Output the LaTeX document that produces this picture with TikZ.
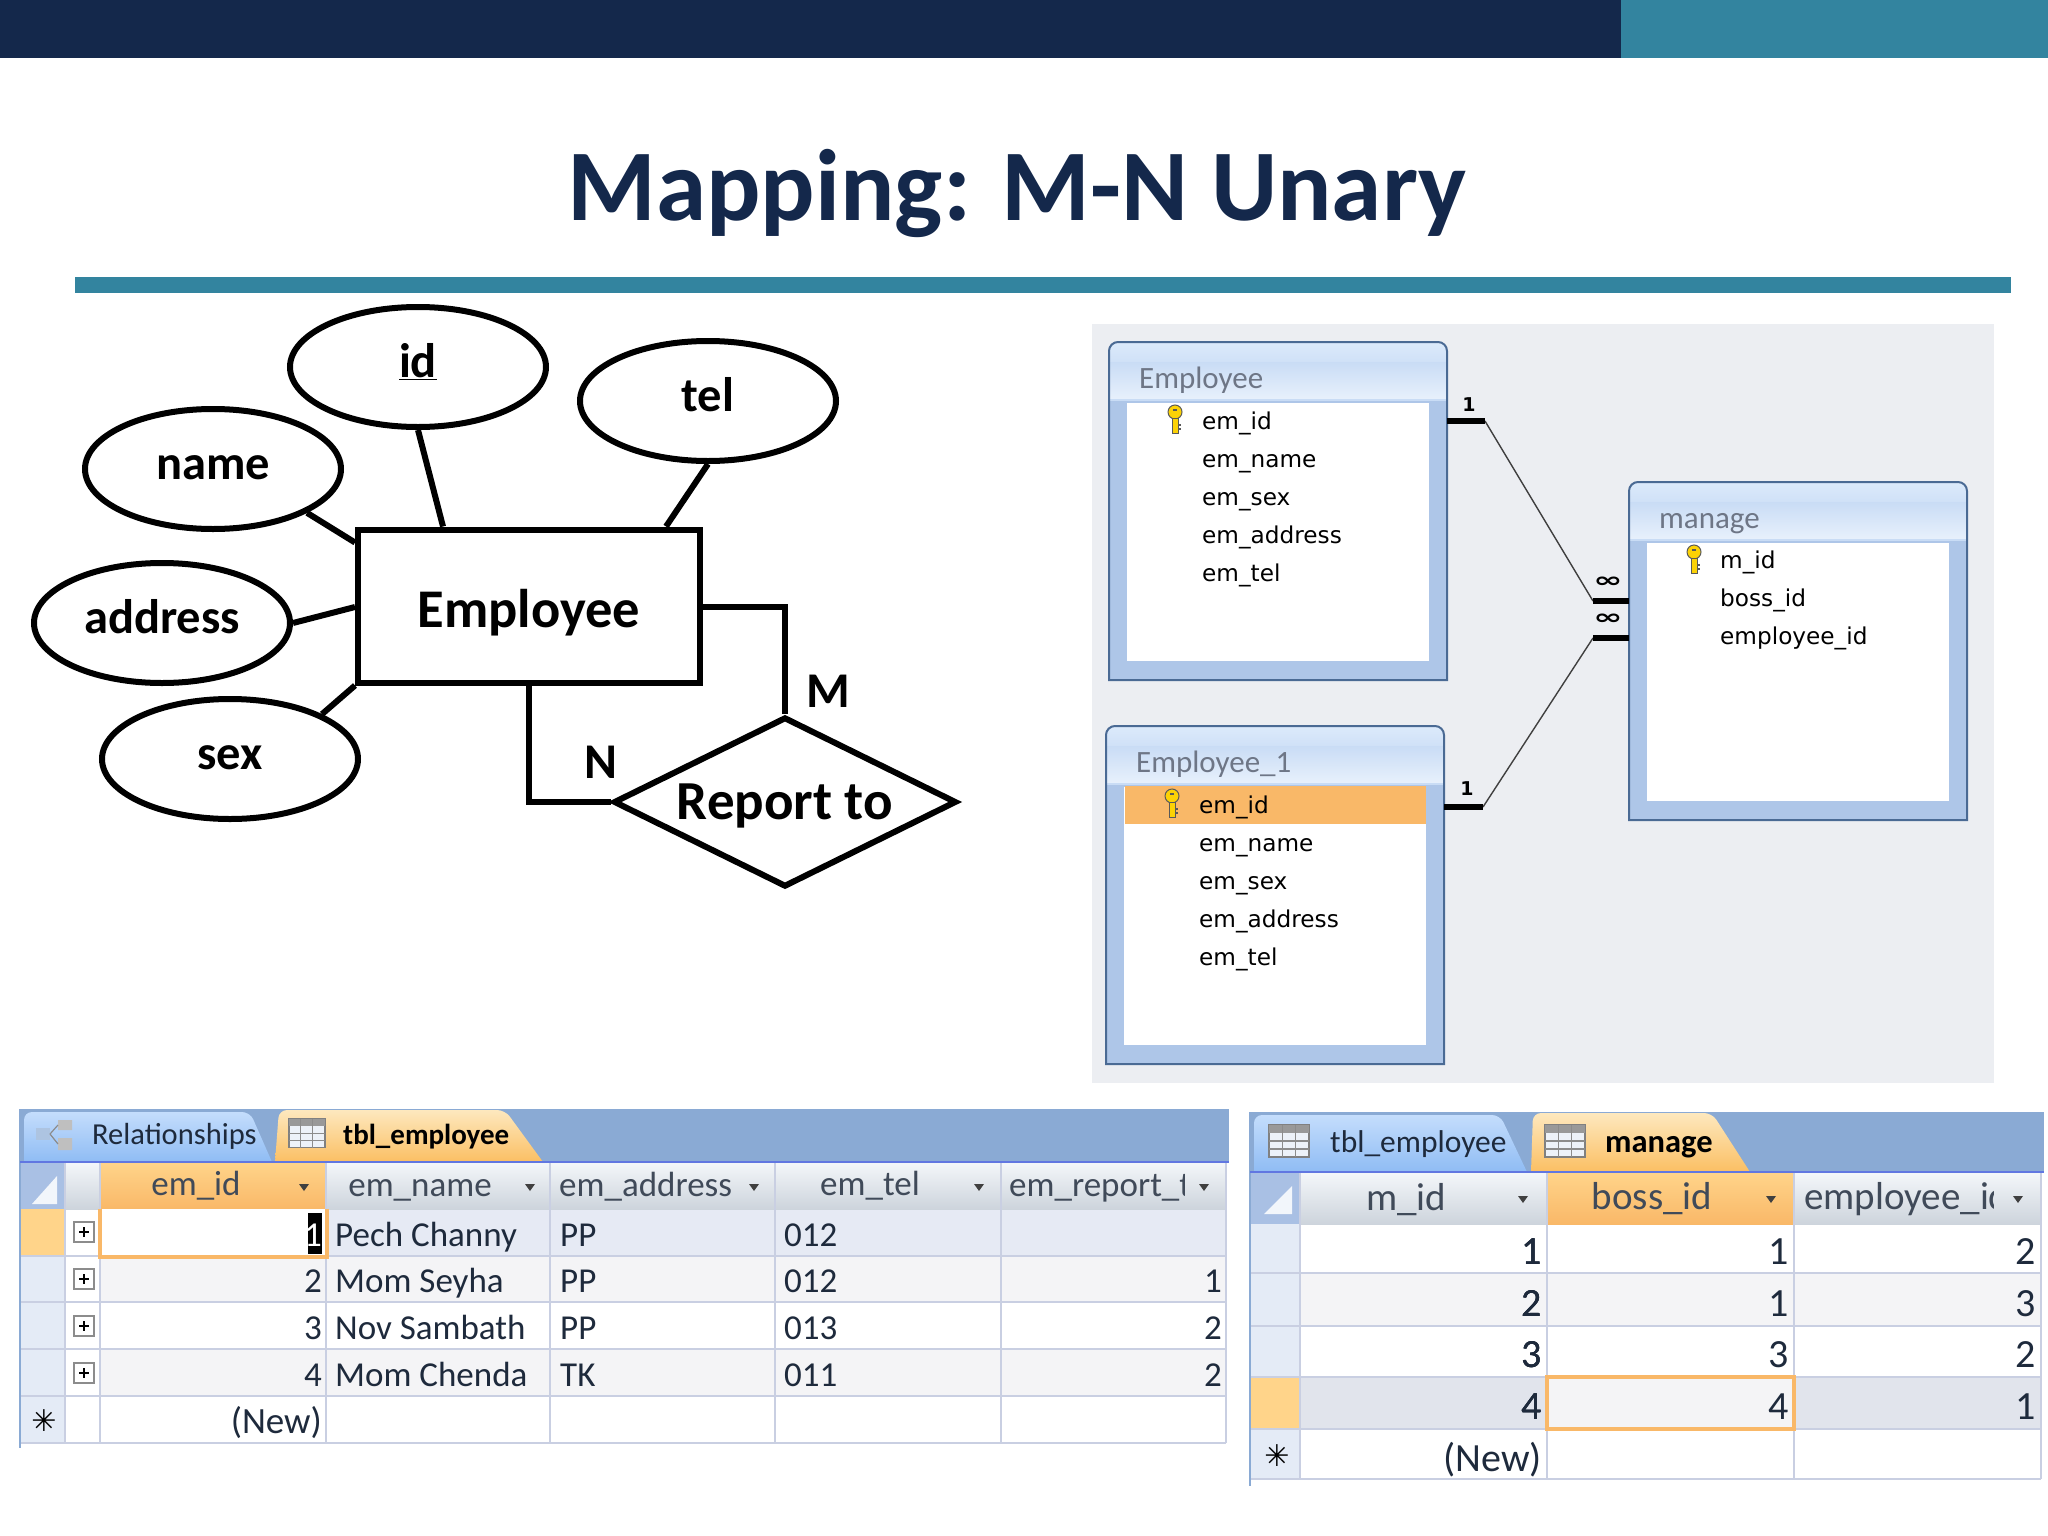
\documentclass[tikz,border=0pt]{standalone}
\usepackage{fontspec}
\setmainfont{Carlito}
\newfontfamily\dvfont{DejaVu Sans}
\usetikzlibrary{shapes.geometric,calc}
\definecolor{navy}{HTML}{14284B}
\definecolor{teal1}{HTML}{33849F}
\definecolor{panelbg}{HTML}{ECEEF2}
\definecolor{tblblue}{HTML}{AEC6E8}
\definecolor{tbledge}{HTML}{4A6A94}
\definecolor{strip}{HTML}{8AAAD4}
\definecolor{gridc}{HTML}{C9CFE2}
\definecolor{selc}{HTML}{E6EAF4}
\definecolor{selcol}{HTML}{E4EBF6}
\definecolor{altc}{HTML}{F4F4F6}
\definecolor{rowsel}{HTML}{E1E4EC}
\definecolor{orangeb}{HTML}{F9B868}
\definecolor{orangef}{HTML}{FFD48A}
\definecolor{txt}{HTML}{1E2A3C}
\definecolor{headtop}{HTML}{F4F7FA}
\definecolor{headbot}{HTML}{CDD4DC}
\definecolor{corner}{HTML}{A9C0E4}
\definecolor{tabtop}{HTML}{C4DDFC}
\definecolor{tabbot}{HTML}{8FBCF4}
\definecolor{otabtop}{HTML}{FDE8BE}
\definecolor{otabbot}{HTML}{FBBF63}
\definecolor{ttltop}{HTML}{DCEAFB}
\definecolor{ttlmid}{HTML}{C9DCF5}
\definecolor{ttlbot}{HTML}{E8F1FC}
\definecolor{ttltxt}{HTML}{6E7686}
\newcommand{\fs}[1]{\fontsize{#1}{#1}\selectfont}
\tikzset{
  x=1pt,y=-1pt,
  attr/.style={ellipse,draw=black,line width=6pt,fill=white,minimum width=256pt,minimum height=120pt,inner sep=0pt,font=\fs{48.5}\bfseries,text height=30pt,text depth=10pt},
  erline/.style={draw=black,line width=6pt},
  erlabel/.style={inner sep=0pt,font=\fs{50}\bfseries},
  fieldtxt/.style={anchor=mid west,inner sep=0pt,yshift=-6.5pt,font=\dvfont\fs{23.2},text=black},
  tabletitle/.style={anchor=mid west,inner sep=0pt,yshift=-8pt,font=\fs{31},text=ttltxt},
  rel/.style={draw=black!75,line width=1.4pt},
  relthick/.style={draw=black,line width=6pt},
  relmark/.style={inner sep=0pt,font=\dvfont\bfseries\fs{19}},
  infmark/.style={inner sep=0pt,font=\dvfont\bfseries\fs{26},xscale=1.35,yscale=.8},
  cellL/.style={anchor=mid west,inner sep=0pt,yshift=-9pt,font=\fs{35},text=txt},
  cellR/.style={anchor=mid east,inner sep=0pt,yshift=-9pt,font=\fs{35},text=txt},
  headc/.style={inner sep=0pt,font=\fs{35},text=txt!85!white},
  headl/.style={anchor=mid west,inner sep=0pt,yshift=-8pt,font=\fs{35},text=txt!85!white},
  cellRb/.style={anchor=mid east,inner sep=0pt,yshift=-11pt,font=\fs{40},text=txt},
  headcb/.style={inner sep=0pt,font=\fs{39},text=txt!85!white},
  headlb/.style={anchor=mid west,inner sep=0pt,yshift=-9pt,font=\fs{39},text=txt!85!white},
  tabtxt/.style={anchor=mid west,inner sep=0pt,yshift=-7pt,font=\fs{30.5},text=txt},
  tabtxtb/.style={anchor=mid west,inner sep=0pt,yshift=-7pt,font=\fs{29}\bfseries,text=black},
  gridl/.style={draw=gridc,line width=1.6pt},
}
\newcommand{\ddarrow}[2]{\fill[black!75] (#1-5,#2-3) -- (#1+5,#2-3) -- (#1,#2+4) -- cycle;}
\newcommand{\tblicon}[3]{%
  \begin{scope}[shift={(#1,#2)}]
    \fill[white!85!strip] (0,0) rectangle (#3,#3*.8);
    \draw[black!50,line width=1.2pt] (0,0) rectangle (#3,#3*.8);
    \fill[black!40] (0,0) rectangle (#3,#3*.2);
    \foreach \k in {.4,.6} \draw[black!45,line width=1.2pt] (0,#3*\k) -- (#3,#3*\k);
    \foreach \k in {.33,.66} \draw[black!45,line width=1.2pt] (#3*\k,0) -- (#3*\k,#3*.8);
  \end{scope}}
\newcommand{\keyicon}[2]{%
  \begin{scope}[shift={(#1,#2)}]
    \fill[yellow!70!orange,draw=black!65,line width=1pt] (0,-7) circle (7);
    \fill[yellow!70!orange,draw=black!65,line width=1pt] (-3,-1) rectangle (3,14);
    \fill[black!65] (-2,-10) rectangle (2,-8);
    \draw[black!65,line width=1.5pt] (3,6) -- (6,6) (3,10) -- (6,10);
  \end{scope}}
\newcommand{\relbox}[3]{%
  \begin{scope}[shift={(#2,#3)}]
    \fill[tblblue,rounded corners=9pt] (0,30) -- (0,0) -- (338,0) -- (338,30) [sharp corners] -- (338,338) -- (0,338) -- cycle;
    \shade[top color=ttltop,bottom color=ttlmid,rounded corners=9pt] (0,30) -- (0,0) -- (338,0) -- (338,30) [sharp corners] -- cycle;
    \shade[top color=ttlmid,bottom color=ttlbot] (0,20) rectangle (338,58);
    \draw[ttlmid,line width=1.5pt] (0,58) -- (338,58);
    \fill[white] (18,61) rectangle (320,319);
    \draw[tbledge,line width=2pt,rounded corners=9pt] (0,30) -- (0,0) -- (338,0) -- (338,30) [sharp corners] -- (338,338) -- (0,338) -- cycle;
    \coordinate (#1) at (0,0);
  \end{scope}}
\begin{document}
\begin{tikzpicture}
\useasboundingbox (0,0) rectangle (2048,1536);
\fill[white] (0,0) rectangle (2048,1536);
\fill[navy] (0,0) rectangle (1621,58);
\fill[teal1] (1621,0) rectangle (2048,58);
\node[inner sep=0pt,font=\fs{101.5}\bfseries,text=navy] (title) at (1017,193) {Mapping: M-N Unary};
\fill[teal1] (75,277) rectangle (2011,293);
% ER
\node[attr] (aid) at (418,367) {\underline{id}};
\node[attr] (atel) at (708,401) {tel};
\node[attr] (aname) at (213,469) {name};
\node[attr] (aaddr) at (162,623) {address};
\node[attr] (asex) at (230,759) {sex};
\node[draw=black,line width=6pt,fill=white,minimum width=342pt,minimum height=153pt,inner sep=0pt,font=\fs{54.5}\bfseries,text height=52pt,text depth=10pt] (emp) at (529,606) {Employee};
\node[diamond,draw=black,line width=6pt,fill=white,minimum width=343pt,minimum height=170pt,inner sep=0pt,aspect=2,font=\fs{55}\bfseries,text height=44pt,text depth=10pt] (rep) at (785,802) {Report to};
\draw[erline] (aid.south) -- ([xshift=88pt]emp.north west);
\draw[erline] (atel.south) -- ([xshift=-37pt]emp.north east);
\draw[erline] (aname.-25) -- ([yshift=-16pt]emp.north west);
\draw[erline] (aaddr.east) -- ([yshift=-1pt]emp.west);
\draw[erline] (asex.26) -- (emp.south west);
\draw[erline] ([yshift=-1pt]emp.east) -| (rep.north);
\draw[erline] (emp.south) |- (rep.west);
\node[erlabel] (lm) at (828,691) {M};
\node[erlabel] (ln) at (601,762) {N};
% panel
\fill[panelbg] (1092,324) rectangle (1994,1083);
\relbox{tE}{1109}{342}
\relbox{tEa}{1106}{726}
\relbox{tM}{1629}{482}
\fill[orangeb] (1125,786) rectangle (1426,824);
\node[tabletitle] (ttE) at (1139,378) {Employee};
\node[tabletitle] (ttEa) at (1136,762) {Employee\_1};
\node[tabletitle] (ttM) at (1659,518) {manage};
\keyicon{1175}{419}
\keyicon{1172}{803}
\keyicon{1694}{559}
\foreach \t/\y/\n in {em\_id/421/a,em\_name/459/b,em\_sex/497/c,em\_address/535/d,em\_tel/573/e}
  \node[fieldtxt] (fE\n) at (1202,\y) {\t};
\foreach \t/\y/\n in {em\_id/805/a,em\_name/843/b,em\_sex/881/c,em\_address/919/d,em\_tel/957/e}
  \node[fieldtxt] (fEa\n) at (1199,\y) {\t};
\foreach \t/\y/\n in {m\_id/560/a,boss\_id/598/b,employee\_id/636/c}
  \node[fieldtxt] (fM\n) at (1720,\y) {\t};
\coordinate (c1a) at (1447,421);
\coordinate (c1b) at (1485,421);
\coordinate (c1c) at (1593,601);
\coordinate (c1d) at (1629,601);
\coordinate (c2a) at (1444,807);
\coordinate (c2b) at (1483,807);
\coordinate (c2c) at (1593,638);
\coordinate (c2d) at (1629,638);
\draw[rel] (c1b) -- (c1c);
\draw[rel] (c2b) -- (c2c);
\draw[relthick] (c1a) -- (c1b);
\draw[relthick] (c1c) -- (c1d);
\draw[relthick] (c2a) -- (c2b);
\draw[relthick] (c2c) -- (c2d);
\node[relmark] (m1) at (1469,405) {1};
\node[relmark] (m2) at (1467,789) {1};
\node[infmark] (m3) at (1608,582) {∞};
\node[infmark] (m4) at (1608,619) {∞};
% datasheet 1
\fill[strip] (20,1109) rectangle (1229,1162);
\shade[top color=tabtop,bottom color=tabbot,rounded corners=8pt] (24,1162) -- (24,1112) -- (250,1112) [sharp corners] -- (272,1162) -- cycle;
\shade[top color=otabtop,bottom color=otabbot,rounded corners=8pt] (275,1162) -- (279,1110) -- (505,1110) [sharp corners] -- (543,1162) -- cycle;
\node[tabtxt] (tab1) at (92,1135) {Relationships};
\node[tabtxtb] (tab2) at (343,1135) {tbl\_employee};
\fill[strip!70!white] (36,1128) rectangle (50,1140);
\fill[black!25] (58,1120) rectangle (72,1130) (58,1138) rectangle (72,1150);
\draw[black!45,line width=1.2pt] (50,1134) -- (58,1125) (50,1134) -- (58,1144);
\tblicon{289}{1119}{36}
\foreach \a/\b/\f in {1209/1256/selc,1256/1302/altc,1302/1349/white,1349/1396/altc,1396/1443/white}
  \fill[\f] (100,\a) rectangle (1226,\b);
\fill[white] (65,1162) rectangle (100,1443);
\fill[selcol] (20,1209) rectangle (65,1443);
\fill[orangef] (20,1209) rectangle (65,1256);
\shade[top color=headtop,bottom color=headbot] (65,1162) rectangle (1226,1209);
\shade[top color=orangef,bottom color=orangeb] (100,1162) rectangle (326,1209);
\fill[corner] (20,1162) rectangle (65,1209);
\fill[white!85!corner] (32,1204) -- (57,1204) -- (57,1176) -- cycle;
\foreach \y in {1256,1302,1349,1396,1443} \draw[gridl] (20,\y) -- (1226,\y);
\foreach \x in {65,100,326,550,775,1001,1226} \draw[gridl] (\x,1162) -- (\x,1443);
\draw[strip,line width=2pt] (20,1109) -- (20,1448);
\draw[strip!70!blue,line width=1.5pt] (20,1162) -- (1229,1162);
\fill[white] (100,1209) rectangle (326,1256);
\draw[orangeb,line width=3.5pt] (100,1209) -- (100,1257) -- (327,1257) -- (327,1209);
\foreach \y in {1232,1279,1326,1373} {
  \fill[white] (74,\y-10) rectangle (94,\y+10);
  \draw[black!45,line width=1.5pt] (74,\y-10) rectangle (94,\y+10);
  \draw[black,line width=1.8pt] (79,\y) -- (89,\y) (84,\y-5) -- (84,\y+5);
}
\node[inner sep=0pt,font=\dvfont\bfseries\fs{30}] (star1) at (44,1421) {✳};
\node[headc] (h1a) at (196,1186) {em\_id};
\node[headc] (h1b) at (420,1190) {em\_name};
\node[headl] (h1c) at (559,1186) {em\_address};
\node[headc] (h1d) at (870,1186) {em\_tel};
\begin{scope}
  \clip (1005,1165) rectangle (1184,1208);
  \node[headl] (h1e) at (1009,1186) {em\_report\_t};
\end{scope}
\foreach \x in {304,530,754,979,1204} \ddarrow{\x}{1187}
\fill[black] (308,1213) rectangle (322,1254);
\node[cellR,text=white] (v1) at (322,1235) {1};
\foreach \t/\y/\n in {2/1281/b,3/1328/c,4/1375/d} \node[cellR] (id\n) at (322,\y) {\t};
\node[cellR,font=\fs{37}] (idn) at (322,1422) {(New)};
\foreach \t/\y/\n in {Pech Channy/1235/a,Mom Seyha/1281/b,Nov Sambath/1328/c,Mom Chenda/1375/d} \node[cellL] (nm\n) at (335,\y) {\t};
\foreach \t/\y/\n in {PP/1235/a,PP/1281/b,PP/1328/c,TK/1375/d} \node[cellL] (ad\n) at (560,\y) {\t};
\foreach \t/\y/\n in {012/1235/a,012/1281/b,013/1328/c,011/1375/d} \node[cellL] (tl\n) at (784,\y) {\t};
\foreach \t/\y/\n in {1/1281/b,2/1328/c,2/1375/d} \node[cellR] (rp\n) at (1222,\y) {\t};
% datasheet 2
\fill[strip] (1250,1112) rectangle (2044,1172);
\shade[top color=tabtop,bottom color=tabbot,rounded corners=8pt] (1254,1172) -- (1254,1115) -- (1500,1115) [sharp corners] -- (1527,1172) -- cycle;
\shade[top color=otabtop,bottom color=otabbot,rounded corners=8pt] (1531,1172) -- (1533,1113) -- (1712,1113) [sharp corners] -- (1750,1172) -- cycle;
\tblicon{1269}{1125}{40}
\tblicon{1545}{1125}{40}
\node[tabtxt,font=\fs{31.5}] (tab3) at (1330,1143) {tbl\_employee};
\node[tabtxtb,font=\fs{32.5}\bfseries] (tab4) at (1605,1143) {manage};
\foreach \a/\b/\f in {1224/1273/white,1273/1326/altc,1326/1377/white,1377/1429/rowsel,1429/1479/white}
  \fill[\f] (1300,\a) rectangle (2041,\b);
\fill[selcol] (1250,1224) rectangle (1300,1479);
\fill[orangef] (1250,1377) rectangle (1300,1429);
\shade[top color=headtop,bottom color=headbot] (1300,1172) rectangle (2041,1224);
\shade[top color=orangef,bottom color=orangeb] (1547,1172) rectangle (1794,1224);
\fill[corner] (1250,1172) rectangle (1300,1224);
\fill[white!85!corner] (1264,1214) -- (1292,1214) -- (1292,1186) -- cycle;
\foreach \y in {1273,1326,1377,1429,1479} \draw[gridl] (1250,\y) -- (2041,\y);
\foreach \x in {1300,1547,1794,2041} \draw[gridl] (\x,1172) -- (\x,1479);
\draw[strip,line width=2pt] (1250,1112) -- (1250,1486);
\draw[strip!70!blue,line width=1.5pt] (1250,1172) -- (2044,1172);
\fill[altc] (1547,1377) rectangle (1794,1429);
\draw[orangeb,line width=3.5pt] (1547,1377) rectangle (1794,1429);
\node[inner sep=0pt,font=\dvfont\bfseries\fs{30}] (star2) at (1277,1456) {✳};
\node[headcb] (h2a) at (1406,1200) {m\_id};
\node[headcb] (h2b) at (1652,1199) {boss\_id};
\begin{scope}
  \clip (1798,1175) rectangle (1993,1222);
  \node[headlb] (h2c) at (1804,1198) {employee\_id};
\end{scope}
\foreach \x in {1523,1771,2018} \ddarrow{\x}{1199}
\foreach \t/\y/\n in {1/1251/a,2/1303/b,3/1354/c,4/1406/d} \node[cellRb] (mi\n) at (1542,\y) {\t};
\node[cellRb] (min) at (1542,1458) {(New)};
\foreach \t/\y/\n in {1/1251/a,1/1303/b,3/1354/c,4/1406/d} \node[cellRb] (bo\n) at (1789,\y) {\t};
\foreach \t/\y/\n in {2/1251/a,3/1303/b,2/1354/c,1/1406/d} \node[cellRb] (em\n) at (2036,\y) {\t};
\end{tikzpicture}
\end{document}
